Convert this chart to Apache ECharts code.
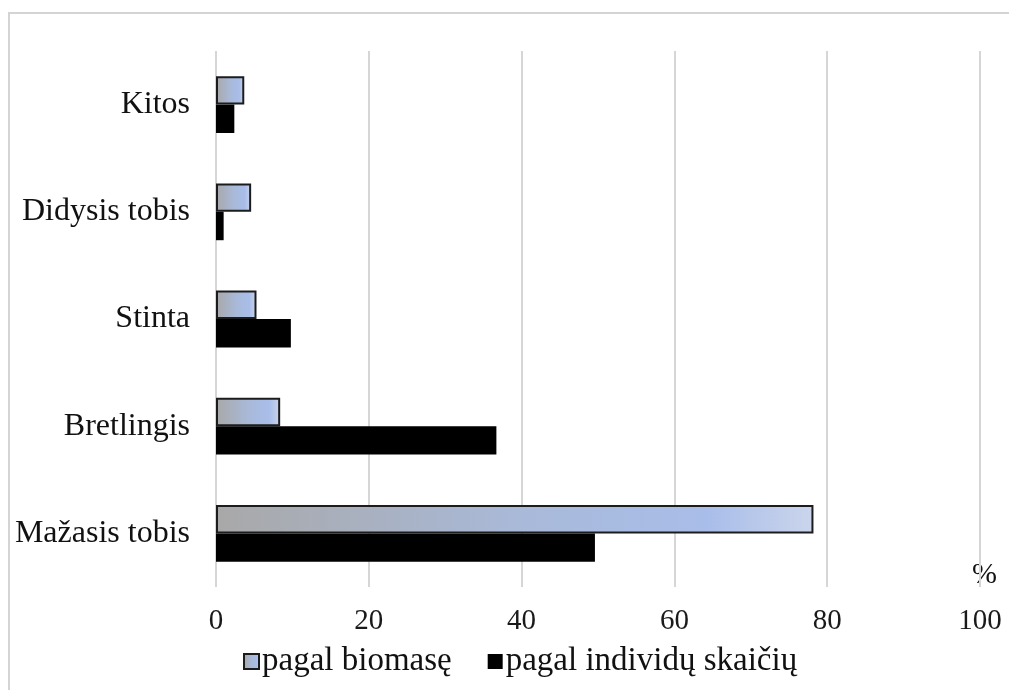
<!DOCTYPE html>
<html>
<head>
<meta charset="utf-8">
<script src="https://cdn.jsdelivr.net/npm/echarts@6/dist/echarts.min.js"></script>
<style>
  html, body { margin: 0; padding: 0; background: #fff; }
  #chart { width: 1009px; height: 690px; }
</style>
</head>
<body>
<div id="chart"></div>
<script>
// Fish species share (%), bottom-to-top order on the category axis
const species = ['Mažasis tobis', 'Bretlingis', 'Stinta', 'Didysis tobis', 'Kitos'];
const byBiomass = [78.2, 8.4, 5.3, 4.6, 3.7];
const byCount = [49.6, 36.7, 9.8, 1.0, 2.4];
const seriesNames = ['pagal biomasę', 'pagal individų skaičių'];
const xTicks = { min: 0, max: 100, interval: 20 };

const serif = '"Liberation Serif", "Times New Roman", serif';

const chart = echarts.init(document.getElementById('chart'), null, { renderer: 'canvas' });

const biomassFill = new echarts.graphic.LinearGradient(0, 0, 1, 0, [
  { offset: 0, color: '#a8a8a8' },
  { offset: 0.5, color: '#a9b9d8' },
  { offset: 0.82, color: '#a8bde9' },
  { offset: 1, color: '#cbd5ec' }
]);

chart.setOption({
  animation: false,
  backgroundColor: '#fff',
  grid: { left: 216, right: 29, top: 51, bottom: 103, containLabel: false },
  xAxis: {
    type: 'value',
    min: xTicks.min,
    max: xTicks.max,
    interval: xTicks.interval,
    axisLine: { show: false },
    axisTick: { show: false },
    splitLine: { show: true, lineStyle: { color: '#d6d6d6', width: 2 } },
    axisLabel: { margin: 20, color: '#1a1a1a', fontFamily: serif, fontSize: 29 }
  },
  yAxis: {
    type: 'category',
    data: species,
    axisLine: { show: false },
    axisTick: { show: false },
    axisLabel: { margin: 26, color: '#111', fontFamily: serif, fontSize: 32 }
  },
  legend: {
    left: 238,
    top: 640,
    icon: 'rect',
    itemWidth: 15,
    itemHeight: 15,
    itemGap: 36,
    textStyle: { fontFamily: serif, fontSize: 33, color: '#111', padding: [0, 0, 0, -2] },
    data: seriesNames
  },
  series: [
    {
      name: seriesNames[0],
      type: 'bar',
      data: byBiomass,
      barGap: '0%',
      barCategoryGap: '47%',
      itemStyle: { color: biomassFill, borderColor: '#1c1c1c', borderWidth: 2 }
    },
    {
      name: seriesNames[1],
      type: 'bar',
      data: byCount,
      barGap: '0%',
      barCategoryGap: '47%',
      itemStyle: { color: '#000' }
    }
  ],
  graphic: [
    {
      type: 'rect',
      shape: { x: 9, y: 13, width: 1040, height: 720 },
      style: { fill: 'none', stroke: '#d4d4d4', lineWidth: 2 },
      silent: true
    },
    {
      type: 'text',
      left: 972,
      top: 560,
      style: { text: '%', fontFamily: serif, fontSize: 30, fill: '#111' }
    }
  ]
});
</script>
</body>
</html>
